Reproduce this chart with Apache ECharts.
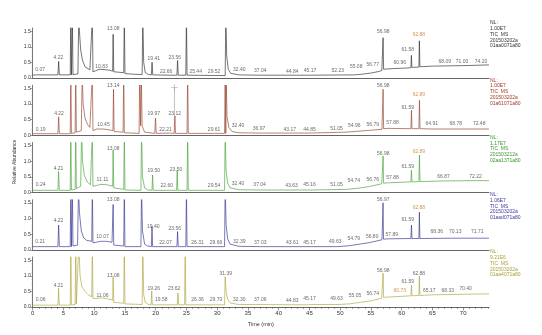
<!DOCTYPE html>
<html><head><meta charset="utf-8">
<script src="https://cdn.jsdelivr.net/npm/echarts@6/dist/echarts.min.js"></script>
<style>html,body{margin:0;padding:0;background:#fff}#c{width:542px;height:335px}</style>
</head><body><div id="c"></div>
<script>
// ---- data ----
const xTicks = [0,5,10,15,20,25,30,35,40,45,50,55,60,65,70];
const yTicks = [0,0.5,1.0,1.5];

// chromatogram traces [time(min), relative abundance]; 2 = off-scale peak
const trace1 = [[0,0.09],[0.07,0.13],[0.4,0.1],[4.1,0.1],[4.22,0.53],[4.34,0.1],[6.1,0.1],[6.2,2],[6.3,0.1],[6.35,0.1],[6.45,2],[6.55,0.11],[7.35,0.13],[7.5,2],[7.6,1.5],[7.8,0.9],[8.08,0.58],[8.5,0.36],[9.3,0.26],[9.6,0.24],[9.7,2],[9.8,0.2],[10.2,0.23],[10.83,0.28],[11.6,0.27],[12.5,0.25],[13.0,0.22],[13.08,1.4],[13.18,0.2],[14.8,0.17],[14.9,2],[15.0,0.14],[16.5,0.12],[17.8,0.11],[17.9,2],[18.05,0.5],[18.3,0.18],[18.8,0.11],[19.3,0.1],[19.41,0.5],[19.52,0.1],[22.66,0.09],[23.45,0.09],[23.56,0.56],[23.67,0.09],[24.9,0.09],[25.0,2],[25.1,0.09],[25.44,0.09],[29.52,0.08],[31.3,0.08],[31.4,2],[31.55,0.7],[31.8,0.28],[32.2,0.15],[32.4,0.12],[33.5,0.1],[37.04,0.09],[44.84,0.09],[45.17,0.09],[52.23,0.1],[53.5,0.12],[55.06,0.16],[56.3,0.21],[56.77,0.24],[56.9,0.26],[56.98,1.29],[57.06,0.28],[58.5,0.3],[60.96,0.32],[61.5,0.33],[61.58,0.72],[61.66,0.34],[62.8,0.35],[62.88,1.19],[62.96,0.36],[65,0.38],[68.09,0.39],[71.0,0.4],[74.2,0.42]];
const trace2 = [[0,0.05],[0.19,0.08],[0.5,0.05],[4.1,0.05],[4.22,0.59],[4.34,0.05],[6.1,0.05],[6.2,2],[6.3,0.06],[6.9,0.08],[7.0,2],[7.1,0.1],[7.9,0.15],[8.05,2],[8.2,1.0],[8.5,0.55],[8.9,0.35],[9.3,0.25],[9.6,0.2],[9.7,2],[9.8,0.15],[10.1,0.16],[10.45,0.2],[11.5,0.2],[12.5,0.17],[13.05,0.15],[13.14,1.47],[13.24,0.12],[14.7,0.1],[14.8,2],[14.9,0.08],[17.3,0.06],[17.4,2],[17.55,0.3],[17.65,2],[17.8,0.3],[18.2,0.1],[19.85,0.06],[19.97,0.55],[20.1,0.06],[22.21,0.07],[23.0,0.06],[23.12,0.62],[23.22,0.06],[25.1,0.06],[25.2,2],[25.3,0.06],[29.61,0.06],[31.2,0.06],[31.3,2],[31.4,0.06],[31.45,2],[31.6,0.6],[31.9,0.25],[32.4,0.12],[33.5,0.08],[36.97,0.07],[43.17,0.07],[44.85,0.07],[51.05,0.1],[53,0.13],[54.96,0.16],[56.79,0.19],[56.9,0.2],[56.98,1.47],[57.06,0.21],[57.88,0.22],[61.5,0.21],[61.59,0.8],[61.68,0.21],[62.8,0.21],[62.89,1.12],[62.98,0.21],[64.91,0.2],[68.78,0.2],[72.48,0.2],[74.2,0.2]];
const trace3 = [[0,0.07],[0.24,0.1],[0.6,0.07],[4.1,0.07],[4.21,0.67],[4.33,0.07],[6.1,0.07],[6.2,2],[6.3,0.08],[6.9,0.1],[7.0,2],[7.1,0.12],[7.8,0.2],[7.95,2],[8.1,1.0],[8.4,0.55],[8.9,0.33],[9.4,0.25],[9.6,0.22],[9.7,2],[9.8,0.2],[10.3,0.22],[11.11,0.26],[12,0.25],[13.0,0.2],[13.08,1.36],[13.18,0.15],[14.8,0.1],[14.9,2],[15.0,0.08],[17.6,0.07],[17.7,2],[17.85,0.5],[18.2,0.15],[18.7,0.08],[19.4,0.07],[19.5,0.56],[19.6,0.07],[22.6,0.07],[23.4,0.07],[23.5,0.72],[23.6,0.07],[25.1,0.07],[25.2,2],[25.3,0.07],[29.54,0.07],[31.2,0.07],[31.3,2],[31.45,0.7],[31.7,0.3],[32.1,0.15],[32.4,0.12],[33.5,0.09],[37.04,0.08],[43.63,0.08],[45.16,0.08],[51.05,0.1],[53,0.14],[54.74,0.19],[56.76,0.28],[56.9,0.29],[56.98,1.17],[57.06,0.3],[57.88,0.31],[61.5,0.34],[61.59,0.72],[61.68,0.34],[62.8,0.35],[62.89,1.2],[62.98,0.35],[66.87,0.37],[72.22,0.38],[74.2,0.38]];
const trace4 = [[0,0.1],[0.21,0.13],[0.6,0.1],[4.1,0.1],[4.22,0.79],[4.34,0.1],[6.1,0.1],[6.2,2],[6.3,0.1],[6.35,0.1],[6.45,2],[6.55,0.12],[7.3,0.15],[7.45,2],[7.6,1.2],[7.9,0.6],[8.3,0.38],[8.8,0.3],[9.6,0.27],[9.7,2],[9.8,0.22],[10.07,0.26],[11,0.27],[12,0.27],[12.9,0.24],[13.0,0.2],[13.08,1.45],[13.18,0.15],[14.8,0.12],[14.9,2],[15.0,0.1],[17.6,0.1],[17.7,2],[17.85,0.6],[18.2,0.18],[18.7,0.12],[19.3,0.1],[19.4,0.74],[19.5,0.1],[22.07,0.1],[23.45,0.1],[23.56,0.58],[23.67,0.1],[24.9,0.1],[25.0,2],[25.1,0.1],[26.31,0.1],[29.66,0.1],[31.2,0.1],[31.3,2],[31.45,0.8],[31.7,0.35],[32.1,0.18],[32.39,0.14],[33.5,0.11],[37.03,0.1],[43.61,0.1],[45.17,0.1],[49.63,0.1],[51.5,0.13],[54.79,0.23],[56.8,0.32],[56.9,0.33],[56.97,1.5],[57.05,0.34],[57.89,0.35],[61.5,0.36],[61.59,0.79],[61.68,0.36],[62.8,0.36],[62.88,1.2],[62.96,0.36],[68.36,0.37],[70.13,0.37],[71.71,0.37],[74.2,0.37]];
const trace5 = [[0,0.06],[0.06,0.08],[0.5,0.06],[4.1,0.06],[4.21,0.6],[4.33,0.06],[6.1,0.06],[6.2,2],[6.3,0.07],[6.9,0.08],[7.0,2],[7.1,0.1],[7.4,0.15],[7.5,2],[7.7,1.0],[8.0,0.65],[8.5,0.5],[9.0,0.4],[9.6,0.32],[9.7,2],[9.8,0.28],[10.3,0.27],[11.06,0.29],[12,0.27],[13.0,0.22],[13.08,0.97],[13.18,0.15],[14.8,0.12],[14.9,2],[15.0,0.1],[17.8,0.08],[17.9,2],[18.05,0.4],[18.3,0.15],[18.8,0.08],[19.25,0.07],[19.35,0.51],[19.45,0.07],[19.58,0.08],[23.5,0.07],[23.62,0.45],[23.74,0.07],[24.7,0.07],[24.8,2],[24.9,0.07],[26.36,0.07],[29.7,0.07],[31.2,0.07],[31.3,0.97],[31.45,0.5],[31.7,0.25],[32.1,0.13],[32.3,0.11],[33.5,0.08],[37.06,0.08],[44.83,0.07],[45.17,0.08],[49.63,0.08],[51.5,0.1],[55.05,0.2],[56.74,0.28],[56.9,0.3],[56.98,1.08],[57.06,0.31],[60.73,0.35],[61.5,0.36],[61.59,0.7],[61.68,0.36],[62.8,0.37],[62.88,0.99],[62.96,0.37],[65.17,0.39],[68.33,0.4],[70.4,0.41],[74.2,0.42]];

// peak annotations [time where text sits, abundance level of text, text, highlight]
const peaks1 = [[1.2,0.26,'0.07'],[4.17,0.66,'4.22'],[11.2,0.38,'10.83'],[13.1,1.57,'13.08'],[19.7,0.61,'19.41'],[21.7,0.22,'22.66'],[23.1,0.66,'23.56'],[26.5,0.22,'25.44'],[29.5,0.22,'29.52'],[33.6,0.28,'32.40'],[37.0,0.23,'37.04'],[42.2,0.22,'44.84'],[45.1,0.23,'45.17'],[49.6,0.23,'52.23'],[52.6,0.36,'55.08'],[55.3,0.42,'56.77'],[57.0,1.48,'56.98'],[59.7,0.5,'60.96'],[61.0,0.92,'61.58'],[62.8,1.38,'62.88',1],[67.0,0.54,'68.09'],[69.8,0.54,'71.00'],[72.9,0.54,'74.20']];
const peaks2 = [[1.3,0.19,'0.19'],[4.28,0.7,'4.22'],[11.5,0.33,'10.45'],[13.1,1.6,'13.14'],[19.7,0.7,'19.97'],[21.6,0.19,'22.21'],[23.1,0.7,'23.12'],[29.5,0.17,'29.61'],[33.4,0.3,'32.40'],[36.8,0.22,'36.97'],[41.8,0.19,'43.17'],[45.0,0.19,'44.85'],[49.4,0.22,'51.05'],[52.3,0.3,'54.96'],[55.3,0.33,'56.79'],[57.0,1.58,'56.98'],[58.5,0.4,'57.88'],[61.0,0.9,'61.59'],[62.8,1.31,'62.89',1],[64.9,0.36,'64.91'],[68.8,0.36,'68.78'],[72.6,0.38,'72.48']];
const peaks3 = [[1.3,0.24,'0.24'],[4.2,0.77,'4.21'],[11.35,0.4,'11.11'],[13.1,1.41,'13.08'],[19.7,0.7,'19.50'],[21.8,0.21,'22.60'],[23.3,0.72,'23.50'],[29.5,0.21,'29.54'],[33.4,0.29,'32.40'],[36.9,0.24,'37.04'],[42.1,0.21,'43.63'],[45.0,0.24,'45.16'],[49.4,0.24,'51.05'],[52.2,0.38,'54.74'],[55.3,0.4,'56.76'],[57.0,1.23,'56.98'],[58.5,0.49,'57.88'],[61.0,0.83,'61.59'],[62.8,1.31,'62.89',1],[66.8,0.51,'66.87'],[72.0,0.51,'72.22']];
const peaks4 = [[1.2,0.26,'0.21'],[4.2,0.92,'4.22'],[11.35,0.42,'10.07'],[13.1,1.59,'13.08'],[19.6,0.74,'19.40'],[21.6,0.24,'22.07'],[23.1,0.69,'23.56'],[26.8,0.24,'26.31'],[29.8,0.24,'29.66'],[33.6,0.26,'32.39'],[37.0,0.24,'37.03'],[42.2,0.24,'43.61'],[45.0,0.24,'45.17'],[49.2,0.26,'49.63'],[52.2,0.37,'54.79'],[55.2,0.42,'56.80'],[57.0,1.59,'56.97'],[58.4,0.5,'57.89'],[61.0,0.95,'61.59'],[62.8,1.36,'62.88',1],[65.7,0.58,'68.36'],[68.7,0.58,'70.13'],[72.3,0.58,'71.71']];
const peaks5 = [[1.3,0.25,'0.06'],[4.2,0.7,'4.21'],[11.35,0.38,'11.06'],[13.1,1.02,'13.08'],[19.7,0.58,'19.26'],[20.9,0.25,'19.58'],[23.0,0.58,'23.62'],[26.8,0.25,'26.36'],[29.8,0.25,'29.70'],[31.4,1.08,'31.39'],[33.6,0.25,'32.30'],[37.0,0.25,'37.06'],[42.2,0.22,'44.83'],[45.0,0.28,'45.17'],[49.4,0.28,'49.63'],[52.4,0.38,'55.05'],[55.3,0.44,'56.74'],[57.0,1.18,'56.98'],[59.7,0.52,'60.73',1],[61.0,0.81,'61.59'],[62.8,1.08,'62.88'],[64.5,0.54,'65.17'],[67.5,0.54,'68.33'],[70.4,0.58,'70.40']];

// cursor marker in panel 2 [time, from, to]
const cursor2 = [23.05, 0.62, 1.52];

const info = [
  ['NL:','1.00E7','TIC  MS','201503202a','01aa0071a80'],
  ['NL:','1.00E7','TIC  MS','201503202a','01a61071a80'],
  ['NL:','1.17E7','TIC  MS','201503212a','02aa1371a80'],
  ['NL:','1.06E7','TIC  MS','201503202a','01aad071a80'],
  ['NL:','9.21E6','TIC  MS','201503202a','01aa4071a80']
];

// ---- layout / styles ----
const FONT = 'Liberation Sans, Arial, sans-serif';
const colors = ['#2a2a2a','#93402c','#44a034','#30308e','#aca43a'];
const textColors = ['#333333','#a23a2a','#3c962e','#3a3aa0','#a9a136'];
const traces = [trace1,trace2,trace3,trace4,trace5];
const peaks = [peaks1,peaks2,peaks3,peaks4,peaks5];
const Y0 = [78,135.25,192.5,249.75,307];
const H = 50, LEFT = 32.7, RIGHT = 53;

const grids = [], xAxes = [], yAxes = [], series = [], graphics = [];
Y0.forEach((y0,i)=>{
  const last = i === 4;
  grids.push({left:LEFT, right:RIGHT, top:y0-H, height:H});
  xAxes.push({
    type:'value', gridIndex:i, min:0, max:74.2, interval:5,
    axisLine:{show:true, onZero:false, lineStyle:{color:'#555', width:0.9}},
    axisTick:{show:last, length:3.5, customValues:xTicks, lineStyle:{color:'#555', width:0.6}},
    minorTick:{show:last, splitNumber:5, length:2, lineStyle:{color:'#555', width:0.5}},
    axisLabel:{show:last, customValues:xTicks, fontSize:6, margin:3, color:'#333', fontFamily:FONT},
    splitLine:{show:false},
    name: last ? 'Time (min)' : '', nameLocation:'middle', nameGap:14,
    nameTextStyle:{fontSize:5.5, color:'#333', fontFamily:FONT}
  });
  yAxes.push({
    type:'value', gridIndex:i, min:0, max:1.6, interval:0.5,
    axisLine:{show:true, lineStyle:{color:'#555', width:0.8}},
    axisTick:{show:true, length:2.5, customValues:yTicks, lineStyle:{color:'#555', width:0.6}},
    minorTick:{show:true, splitNumber:5, length:1.3, lineStyle:{color:'#777', width:0.4}},
    axisLabel:{customValues:yTicks, fontSize:5, margin:2, color:'#333', fontFamily:FONT,
      formatter:v=>v.toFixed(1)},
    splitLine:{show:false}
  });
  series.push({
    type:'line', xAxisIndex:i, yAxisIndex:i, data:traces[i], showSymbol:false, symbol:'none',
    lineStyle:{width:0.65, color:colors[i]}, silent:true, animation:false
  });
  series.push({
    type:'scatter', xAxisIndex:i, yAxisIndex:i, symbolSize:1, silent:true, animation:false,
    itemStyle:{color:'rgba(0,0,0,0)'},
    data: peaks[i].map(p=>({value:[p[0],p[1]], name:p[2], label:{color: p[3] ? '#c8781e' : '#444'}})),
    label:{show:true, position:'inside', formatter:'{b}', fontSize:5, fontFamily:FONT}
  });
  graphics.push({
    type:'text', left:490, top:y0-58,
    style:{text:info[i].join('\n'), fontSize:5, lineHeight:5.8, fill:textColors[i], fontFamily:FONT}
  });
});

// cursor in panel 2
series.push({
  type:'line', xAxisIndex:1, yAxisIndex:1, showSymbol:false, symbol:'none', silent:true, animation:false,
  data:[[cursor2[0],cursor2[1]],[cursor2[0],cursor2[2]]], lineStyle:{width:0.6, color:'#999'}
});
series.push({
  type:'scatter', xAxisIndex:1, yAxisIndex:1, silent:true, animation:false,
  symbol:'path://M4.6,0h0.8v10h-0.8zM0,4.6h10v0.8h-10z', symbolSize:7,
  itemStyle:{color:'#888'}, data:[[cursor2[0],cursor2[2]]]
});

graphics.push({
  type:'text', x:15, y:162, rotation:Math.PI/2,
  style:{text:'Relative Abundance', fontSize:5, fill:'#333', fontFamily:FONT, align:'center', verticalAlign:'middle'}
});

const chart = echarts.init(document.getElementById('c'), null, {renderer:'canvas'});
chart.setOption({
  animation:false,
  backgroundColor:'#fff',
  grid:grids, xAxis:xAxes, yAxis:yAxes, series:series, graphic:graphics
});
</script>
</body></html>
